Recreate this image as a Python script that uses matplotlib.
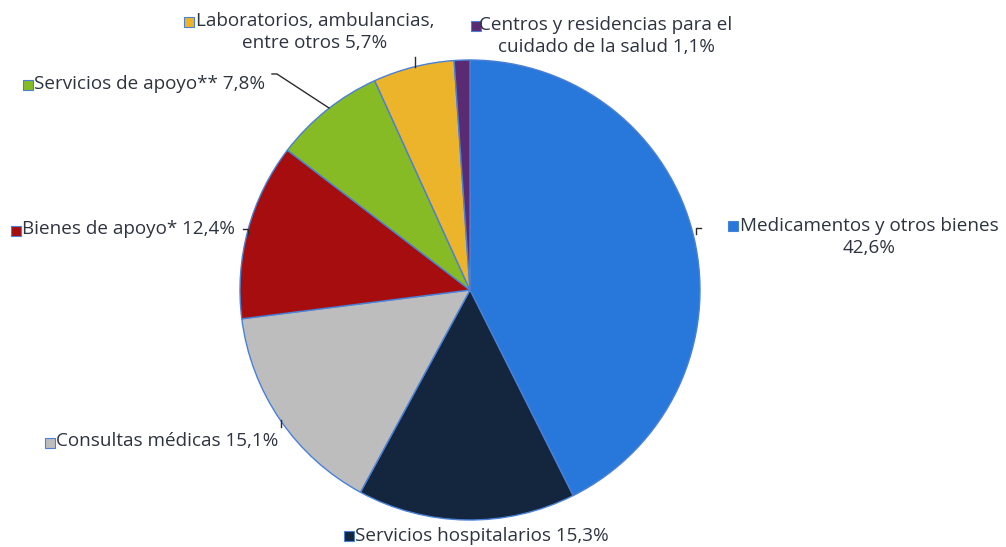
import matplotlib.pyplot as plt
from matplotlib.patches import Rectangle
from matplotlib.lines import Line2D

plt.rcParams['font.family'] = ['Open Sans', 'DejaVu Sans']

# Data (clockwise from 12 o'clock)
categories = ['Medicamentos y otros bienes', 'Servicios hospitalarios', 'Consultas médicas',
              'Bienes de apoyo*', 'Servicios de apoyo**', 'Laboratorios, ambulancias, entre otros',
              'Centros y residencias para el cuidado de la salud']
shares = [42.6, 15.3, 15.1, 12.4, 7.8, 5.7, 1.1]
colors = ['#2878dc', '#13263e', '#bdbdbd', '#a50d0e', '#87bb25', '#ecb42a', '#5a2a72']
label_texts = ['Medicamentos y otros bienes\n42,6%', 'Servicios hospitalarios 15,3%',
               'Consultas médicas 15,1%', 'Bienes de apoyo* 12,4%', 'Servicios de apoyo** 7,8%',
               'Laboratorios, ambulancias,\nentre otros 5,7%',
               'Centros y residencias para el\ncuidado de la salud 1,1%']

W, H = 1006, 547
TEXT_COLOR = '#2e3340'
EDGE = '#4a80d6'


def px(x, y):
    return x / W, 1 - y / H


fig = plt.figure(figsize=(W / 100, H / 100), dpi=100)
cx, cy, r = 470, 290, 230
ax = fig.add_axes([(cx - r) / W, (H - cy - r) / H, 2 * r / W, 2 * r / H])
ax.pie(shares, colors=colors, startangle=90, counterclock=False,
       wedgeprops=dict(edgecolor=EDGE, linewidth=1.0))
ax.set_xlim(-1, 1)
ax.set_ylim(-1, 1)
ax.set_aspect('equal')

# label layout: (marker x, marker y, text x, text y, ha)
layout = [
    (733, 226, 869, 237, 'center'),
    (349, 536, 355, 536, 'left'),
    (50, 443, 56, 441, 'left'),
    (16, 231, 22, 229, 'left'),
    (28, 85, 34, 84, 'left'),
    (189, 22, 315, 32, 'center'),
    (476, 26, 606, 36, 'center'),
]

for (mx, my, tx, ty, ha), txt, col in zip(layout, label_texts, colors):
    x0, y0 = px(mx - 5, my + 5)
    fig.patches.append(Rectangle((x0, y0), 10 / W, 10 / H, transform=fig.transFigure,
                                 facecolor=col, edgecolor=EDGE, linewidth=0.8))
    tx_f, ty_f = px(tx, ty)
    fig.text(tx_f, ty_f, txt, ha=ha, va='center', fontsize=13.6, color=TEXT_COLOR,
             linespacing=1.3)

# leader lines (pixel coords)
leaders = [
    [(696, 234), (696, 228), (701, 228)],
    [(281, 420), (281, 427)],
    [(243, 229), (248, 229), (248, 234)],
    [(272, 74), (277, 74), (329, 108)],
    [(415, 57), (415, 67)],
]
for pts in leaders:
    xs = [px(x, y)[0] for x, y in pts]
    ys = [px(x, y)[1] for x, y in pts]
    fig.add_artist(Line2D(xs, ys, transform=fig.transFigure, color='#2b2b2b', linewidth=1.0))

fig.savefig('out.png', dpi=100)
